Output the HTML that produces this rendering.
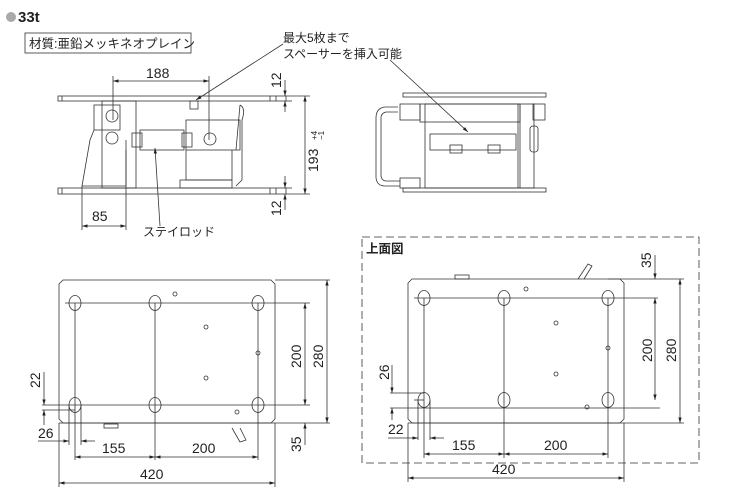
<!DOCTYPE html>
<html><head><meta charset="utf-8"><style>
body{margin:0;background:#fff}
svg{display:block}
text{font-family:"Liberation Sans","Noto Sans CJK JP",sans-serif;fill:#222}
</style></head><body>
<svg width="745" height="500" viewBox="0 0 745 500" xmlns="http://www.w3.org/2000/svg">
<defs>
<marker id="a" viewBox="0 0 10 10" refX="10" refY="5" markerWidth="7" markerHeight="7" orient="auto-start-reverse"><path d="M0,2 L10,5 L0,8 z" fill="#222"/></marker>
</defs>
<g stroke="#333" stroke-width="0.8" fill="none">
<circle cx="11" cy="17" r="5" fill="#aaa" stroke="none"/>
<rect x="25" y="33" width="166" height="20"/>

<rect x="58" y="96" width="228" height="5"/>
<line x1="62" y1="96" x2="62" y2="101"/><line x1="270" y1="96" x2="270" y2="101"/><line x1="276" y1="96" x2="276" y2="101"/>
<rect x="58" y="188" width="228" height="6"/>
<line x1="62" y1="188" x2="62" y2="194"/><line x1="270" y1="188" x2="270" y2="194"/><line x1="276" y1="188" x2="276" y2="194"/>
<rect x="102" y="101" width="34" height="87"/>
<rect x="94" y="105" width="26" height="25"/>
<path d="M94,130 L90,140 L82,186 L126,186 L126,140"/>
<circle cx="112" cy="116" r="6"/><circle cx="112" cy="138" r="6"/>
<rect x="140" y="130" width="44" height="20"/>
<rect x="132" y="133" width="10" height="14"/><rect x="182" y="133" width="10" height="14"/>
<rect x="186" y="120" width="54" height="30"/>
<path d="M186,150 L186,180 L232,180 L232,150"/>
<rect x="180" y="180" width="52" height="8"/>
<circle cx="210" cy="139" r="6"/>
<path d="M240,105 L236,150 L240,105 M240,105 Q246,108 242,120 L242,180 L236,186"/>
<rect x="190" y="101" width="8" height="8"/>

<line x1="113" y1="76" x2="113" y2="120"/><line x1="209" y1="76" x2="209" y2="140"/>
<line x1="113" y1="81" x2="209" y2="81" marker-start="url(#a)" marker-end="url(#a)"/>
<line x1="82" y1="186" x2="82" y2="230"/><line x1="126" y1="150" x2="126" y2="230"/>
<line x1="82" y1="226" x2="126" y2="226" marker-start="url(#a)" marker-end="url(#a)"/>
<line x1="286" y1="96" x2="310" y2="96"/><line x1="286" y1="194" x2="310" y2="194"/>
<line x1="286" y1="101" x2="292" y2="101"/><line x1="286" y1="188" x2="292" y2="188"/>
<line x1="285" y1="80" x2="285" y2="96" marker-end="url(#a)"/>
<line x1="285" y1="112" x2="285" y2="101" marker-end="url(#a)"/>
<line x1="285" y1="176" x2="285" y2="188" marker-end="url(#a)"/>
<line x1="285" y1="210" x2="285" y2="194" marker-end="url(#a)"/>
<line x1="305" y1="96" x2="305" y2="194" marker-start="url(#a)" marker-end="url(#a)"/>
<line x1="160" y1="226" x2="155" y2="148" marker-end="url(#a)"/>
<line x1="283" y1="44" x2="196" y2="100" marker-end="url(#a)"/>
<line x1="390" y1="60" x2="468" y2="132" marker-end="url(#a)"/>

<rect x="403" y="93" width="143" height="4"/>
<rect x="403" y="188" width="143" height="4"/>
<rect x="425" y="104" width="95" height="84"/>
<rect x="420" y="104" width="100" height="18"/>
<rect x="430" y="134" width="86" height="16"/>
<rect x="450" y="145" width="12" height="8"/><rect x="488" y="145" width="12" height="8"/>
<rect x="518" y="104" width="16" height="84"/>
<rect x="530" y="126" width="8" height="26" rx="3"/>
<rect x="400" y="104" width="20" height="16"/>
<rect x="533" y="104" width="12" height="16"/>
<path d="M398,107 L385,107 Q376,108 376,118 L376,178 Q377,186 385,186 L400,186"/>
<path d="M398,112 L386,112 Q381,113 381,118 L381,176 Q382,181 386,181 L400,181"/>
<rect x="400" y="178" width="20" height="10"/>

<path d="M63,280 L271,280 L275,284 L275,419 L271,423 L63,423 L59,419 L59,284 Z"/>
<ellipse cx="75" cy="303" rx="6" ry="7.5"/><ellipse cx="155" cy="303" rx="6" ry="7.5"/><ellipse cx="258" cy="303" rx="6" ry="7.5"/>
<ellipse cx="75" cy="405" rx="6" ry="7.5"/><ellipse cx="155" cy="405" rx="6" ry="7.5"/><ellipse cx="258" cy="405" rx="6" ry="7.5"/>
<circle cx="175" cy="294" r="2"/><circle cx="206" cy="327" r="2"/><circle cx="258" cy="353" r="2"/><circle cx="206" cy="378" r="2"/><circle cx="237" cy="412" r="2"/>
<line x1="65" y1="303" x2="310" y2="303"/><line x1="42" y1="405" x2="310" y2="405"/>
<line x1="42" y1="410" x2="75" y2="410"/>
<line x1="59" y1="423" x2="330" y2="423"/><line x1="275" y1="280" x2="330" y2="280"/>
<line x1="75" y1="303" x2="75" y2="460"/><line x1="155" y1="303" x2="155" y2="460"/><line x1="258" y1="303" x2="258" y2="460"/>
<line x1="69" y1="405" x2="69" y2="445"/><line x1="81" y1="405" x2="81" y2="445"/>
<line x1="59" y1="423" x2="59" y2="487"/><line x1="275" y1="423" x2="275" y2="487"/>
<rect x="104" y="424" width="14" height="4"/>
<path d="M232,428 L240,442 L246,440 L240,428"/>
<line x1="305" y1="303" x2="305" y2="405" marker-start="url(#a)" marker-end="url(#a)"/>
<line x1="327" y1="280" x2="327" y2="423" marker-start="url(#a)" marker-end="url(#a)"/>
<line x1="305" y1="445" x2="305" y2="423" marker-end="url(#a)"/>
<line x1="44" y1="372" x2="44" y2="405" marker-end="url(#a)"/>
<line x1="44" y1="425" x2="44" y2="410" marker-end="url(#a)"/>
<line x1="38" y1="441" x2="69" y2="441" marker-end="url(#a)"/>
<line x1="95" y1="441" x2="81" y2="441" marker-end="url(#a)"/>
<line x1="75" y1="457" x2="155" y2="457" marker-start="url(#a)" marker-end="url(#a)"/>
<line x1="155" y1="457" x2="258" y2="457" marker-start="url(#a)" marker-end="url(#a)"/>
<line x1="59" y1="483" x2="275" y2="483" marker-start="url(#a)" marker-end="url(#a)"/>

<rect x="362" y="237" width="337" height="226" stroke-dasharray="8,4"/>
<path d="M412,279 L620,279 L624,283 L624,419 L620,423 L412,423 L408,419 L408,283 Z"/>
<ellipse cx="424" cy="298" rx="6" ry="7.5"/><ellipse cx="504" cy="298" rx="6" ry="7.5"/><ellipse cx="608" cy="298" rx="6" ry="7.5"/>
<ellipse cx="424" cy="400" rx="6" ry="7.5"/><ellipse cx="504" cy="400" rx="6" ry="7.5"/><ellipse cx="608" cy="400" rx="6" ry="7.5"/>
<circle cx="526" cy="289" r="2"/><circle cx="556" cy="323" r="2"/><circle cx="608" cy="348" r="2"/><circle cx="556" cy="374" r="2"/><circle cx="587" cy="407" r="2"/>
<rect x="455" y="275" width="14" height="4"/>
<path d="M578,279 L588,264 L592,266 L584,279"/>
<line x1="414" y1="298" x2="658" y2="298"/><line x1="390" y1="393" x2="424" y2="393"/>
<line x1="390" y1="408" x2="660" y2="408"/><line x1="414" y1="400" x2="424" y2="400"/>
<line x1="608" y1="279" x2="684" y2="279"/><line x1="408" y1="423" x2="684" y2="423"/>
<line x1="424" y1="298" x2="424" y2="458"/><line x1="504" y1="298" x2="504" y2="458"/><line x1="608" y1="298" x2="608" y2="458"/>
<line x1="418" y1="400" x2="418" y2="440"/><line x1="430" y1="400" x2="430" y2="440"/>
<line x1="408" y1="423" x2="408" y2="482"/><line x1="624" y1="423" x2="624" y2="482"/>
<line x1="655" y1="255" x2="655" y2="279" marker-end="url(#a)"/>
<line x1="655" y1="298" x2="655" y2="400" marker-start="url(#a)" marker-end="url(#a)"/>
<line x1="680" y1="279" x2="680" y2="423" marker-start="url(#a)" marker-end="url(#a)"/>
<line x1="392" y1="365" x2="392" y2="393" marker-end="url(#a)"/>
<line x1="392" y1="420" x2="392" y2="408" marker-end="url(#a)"/>
<line x1="388" y1="438" x2="418" y2="438" marker-end="url(#a)"/>
<line x1="444" y1="438" x2="430" y2="438" marker-end="url(#a)"/>
<line x1="424" y1="454" x2="504" y2="454" marker-start="url(#a)" marker-end="url(#a)"/>
<line x1="504" y1="454" x2="608" y2="454" marker-start="url(#a)" marker-end="url(#a)"/>
<line x1="408" y1="478" x2="624" y2="478" marker-start="url(#a)" marker-end="url(#a)"/>
</g>

<g font-size="14">
<text x="18" y="22" font-weight="bold" font-size="15">33t</text>
<text x="29" y="48" font-size="12.5">材質:亜鉛メッキネオプレイン</text>
<text x="283" y="42" font-size="12">最大5枚まで</text>
<text x="283" y="58" font-size="12">スペーサーを挿入可能</text>
<text x="146" y="78">188</text>
<text x="92" y="221">85</text>
<text x="143" y="236" font-size="12">ステイロッド</text>
<text transform="translate(281,88) rotate(-90)">12</text>
<text transform="translate(281,216) rotate(-90)">12</text>
<text transform="translate(318,172) rotate(-90)">193</text>
<text transform="translate(317,140) rotate(-90)" font-size="8">+4</text>
<text transform="translate(324,140) rotate(-90)" font-size="8">−1</text>

<text transform="translate(301,368) rotate(-90)">200</text>
<text transform="translate(323,368) rotate(-90)">280</text>
<text transform="translate(301,452) rotate(-90)">35</text>
<text transform="translate(40,388) rotate(-90)">22</text>
<text x="38" y="438">26</text>
<text x="102" y="453">155</text>
<text x="192" y="453">200</text>
<text x="140" y="479">420</text>

<text x="366" y="253" font-weight="bold" font-size="12.5">上面図</text>
<text transform="translate(651,268) rotate(-90)">35</text>
<text transform="translate(652,362) rotate(-90)">200</text>
<text transform="translate(676,362) rotate(-90)">280</text>
<text transform="translate(389,380) rotate(-90)">26</text>
<text x="388" y="434">22</text>
<text x="452" y="450">155</text>
<text x="544" y="450">200</text>
<text x="492" y="474">420</text>
</g>
</svg>
</body></html>
